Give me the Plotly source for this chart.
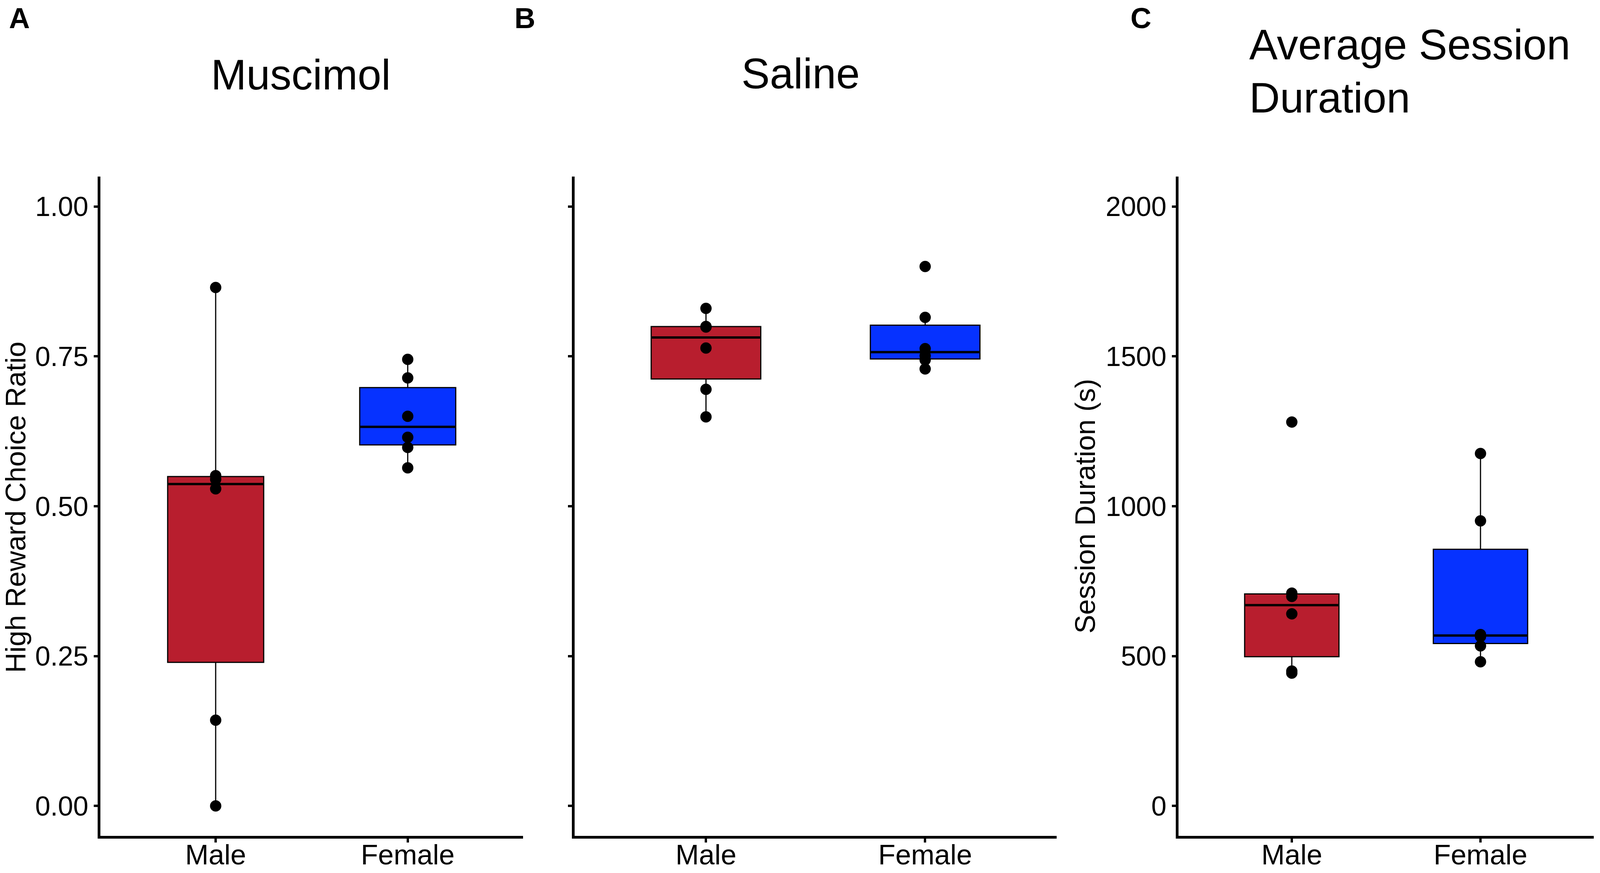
import numpy as np
import plotly.graph_objects as go

# ---------------- data ----------------
categories = ["Male", "Female"]

musc_male = [0.865, 0.551, 0.545, 0.529, 0.143, 0.0]
musc_female = [0.745, 0.714, 0.650, 0.615, 0.598, 0.564]

sal_male = [0.830, 0.800, 0.799, 0.764, 0.695, 0.649]
sal_female = [0.900, 0.815, 0.763, 0.751, 0.744, 0.729]

dur_male = [1281, 710, 699, 641, 450, 443]
dur_female = [1176, 951, 572, 565, 534, 481]

ratio_ticks = [0, 0.25, 0.5, 0.75, 1.0]
ratio_ticklabels = ["0.00", "0.25", "0.50", "0.75", "1.00"]
dur_ticks = [0, 500, 1000, 1500, 2000]
dur_ticklabels = ["0", "500", "1000", "1500", "2000"]

panel_titles = ["Muscimol", "Saline"]
dur_title_lines = ["Average Session", "Duration"]
panel_letters = ["A", "B", "C"]
ratio_ylabel = "High Reward Choice Ratio"
dur_ylabel = "Session Duration (s)"

# ---------------- style / layout ----------------
W, H = 4096, 2235          # browser viewport
RW, RH = 4317, 2235        # reference frame used for positions
RED = "#B81E2E"
BLUE = "#0632FF"
FONT = "Liberation Sans, Arial, Helvetica, sans-serif"
BOX_W = 0.5


def fx(px):
    return px / RW


def fy(py):
    return 1 - py / RH


fig = go.Figure()


def stats(v):
    a = np.asarray(v, dtype=float)
    q1, med, q3 = np.percentile(a, [25, 50, 75])
    iqr = q3 - q1
    lo = a[a >= q1 - 1.5 * iqr].min()
    hi = a[a <= q3 + 1.5 * iqr].max()
    return q1, med, q3, lo, hi


def add_group(vals, pos, color, xa, ya):
    q1, med, q3, lo, hi = stats(vals)
    fig.add_trace(go.Box(
        x=[pos], q1=[q1], median=[med], q3=[q3], lowerfence=[lo], upperfence=[hi],
        width=BOX_W, whiskerwidth=0, fillcolor=color,
        line=dict(color="black", width=3), boxpoints=False,
        xaxis=xa, yaxis=ya, showlegend=False, hoverinfo="skip"))
    fig.add_trace(go.Scatter(
        x=[pos - BOX_W / 2, pos + BOX_W / 2], y=[med, med], mode="lines",
        line=dict(color="black", width=6), xaxis=xa, yaxis=ya,
        showlegend=False, hoverinfo="skip"))
    fig.add_trace(go.Scatter(
        x=[pos] * len(vals), y=vals, mode="markers",
        marker=dict(color="black", size=29), xaxis=xa, yaxis=ya,
        showlegend=False, hoverinfo="skip"))


groups = [
    (musc_male, musc_female, "x", "y"),
    (sal_male, sal_female, "x2", "y2"),
    (dur_male, dur_female, "x3", "y3"),
]
for male, female, xa, ya in groups:
    add_group(male, 0, RED, xa, ya)
    add_group(female, 1, BLUE, xa, ya)

x_domains = [[fx(271), fx(1411)], [fx(1550), fx(2851)], [fx(3180), fx(4300)]]
y_domain = [fy(2140), fy(452)]

axis_common = dict(showline=True, linecolor="black", linewidth=7,
                   ticks="outside", ticklen=10, tickwidth=6, tickcolor="black",
                   showgrid=False, zeroline=False, automargin=False)

layout = dict(
    width=W, height=H, margin=dict(l=0, r=0, t=0, b=0),
    plot_bgcolor="white", paper_bgcolor="white",
    font=dict(family=FONT, color="black"),
    showlegend=False,
)
for i in range(3):
    sfx = "" if i == 0 else str(i + 1)
    layout["xaxis" + sfx] = dict(
        domain=x_domains[i], range=[-0.6, 1.6], tickvals=[0, 1], ticktext=categories,
        tickfont=dict(size=72, family=FONT, color="black"),
        ticklabelstandoff=-30,
        anchor="y" + sfx, **axis_common)
layout["yaxis"] = dict(domain=y_domain, range=[-0.05, 1.05], tickvals=ratio_ticks,
                       ticktext=ratio_ticklabels, anchor="x",
                       tickfont=dict(size=70, family=FONT, color="black"),
                       **axis_common)
layout["yaxis2"] = dict(domain=y_domain, range=[-0.05, 1.05], tickvals=ratio_ticks,
                        showticklabels=False, anchor="x2", **axis_common)
layout["yaxis3"] = dict(domain=y_domain, range=[-100, 2100], tickvals=dur_ticks,
                        ticktext=dur_ticklabels, anchor="x3",
                        tickfont=dict(size=70, family=FONT, color="black"),
                        **axis_common)
fig.update_layout(**layout)

TF = 109
ann = []
ann.append(dict(text=panel_titles[0], x=fx(812), y=fy(191), xanchor="center",
                yanchor="middle", font=dict(size=TF, family=FONT, color="black")))
ann.append(dict(text=panel_titles[1], x=fx(2160), y=fy(188), xanchor="center",
                yanchor="middle", font=dict(size=TF, family=FONT, color="black")))
ann.append(dict(text=dur_title_lines[0], x=fx(3368), y=fy(114), xanchor="left",
                yanchor="middle", font=dict(size=TF, family=FONT, color="black")))
ann.append(dict(text=dur_title_lines[1], x=fx(3368), y=fy(250), xanchor="left",
                yanchor="middle", font=dict(size=TF, family=FONT, color="black")))
for letter, lx in zip(panel_letters, [22, 1386, 3048]):
    ann.append(dict(text="<b>" + letter + "</b>", x=fx(lx), y=fy(46), xanchor="left",
                    yanchor="middle", font=dict(size=74, family=FONT, color="black")))
ann.append(dict(text=ratio_ylabel, x=fx(42), y=fy(1299), xanchor="center",
                yanchor="middle", textangle=-90,
                font=dict(size=72, family=FONT, color="black")))
ann.append(dict(text=dur_ylabel, x=fx(2928), y=fy(1296), xanchor="center",
                yanchor="middle", textangle=-90,
                font=dict(size=72, family=FONT, color="black")))
for a in ann:
    a.update(xref="paper", yref="paper", showarrow=False)
fig.update_layout(annotations=ann)

fig.write_html("out.html", config={"displayModeBar": False},
               post_script="document.body.style.margin='0';")
